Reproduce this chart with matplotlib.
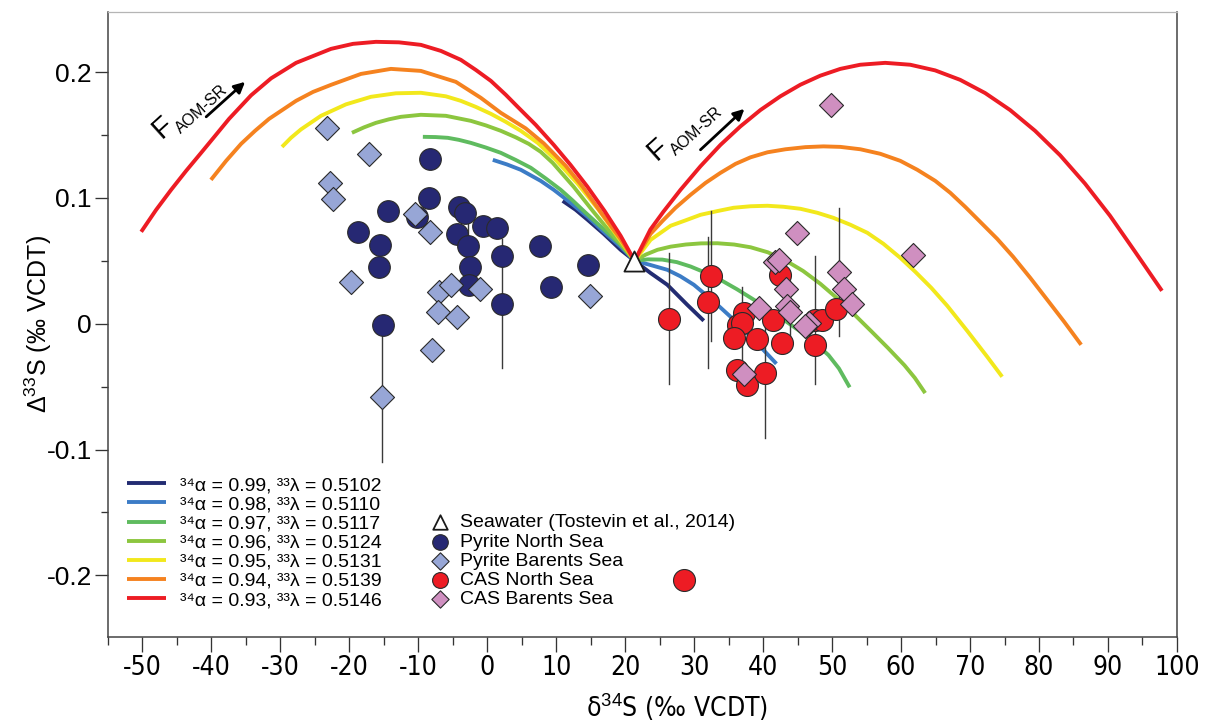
import os
import matplotlib
matplotlib.use('Agg')
import matplotlib.pyplot as plt
from matplotlib import font_manager
from matplotlib.font_manager import FontProperties
from matplotlib.ticker import MultipleLocator, FixedLocator, FixedFormatter

# ---------------- data ----------------
# seawater (Tostevin et al., 2014)
sw_x = [21.3]
sw_y = [0.050]

# Pyrite North Sea
pns_x = [-8.3, -8.4, -14.3, -18.7, -15.5, -15.6, -15.1, -10.2, -4.1, -3.2, -4.4,
         -0.6, 1.5, -2.8, -2.5, -2.6, 2.2, 2.2, 7.6, 9.3, 14.6]
pns_y = [0.131, 0.100, 0.090, 0.073, 0.063, 0.045, -0.001, 0.085, 0.093, 0.088, 0.071,
         0.078, 0.076, 0.062, 0.045, 0.031, 0.054, 0.016, 0.062, 0.029, 0.047]
pns_err = [0, 0, 0, 0, 0, 0, 0, 0, 0, 0, 0,
           0, 0, 0.018, 0, 0, 0, 0.051, 0, 0, 0]

# Pyrite Barents Sea
pbs_x = [-23.2, -17.1, -22.7, -22.3, -10.5, -8.3, -19.7, -7.0, -5.25, -1.05, -7.1,
         -4.4, -7.95, 14.9, -15.3]
pbs_y = [0.156, 0.135, 0.112, 0.099, 0.087, 0.073, 0.033, 0.025, 0.031, 0.028, 0.009,
         0.005, -0.021, 0.022, -0.058]
pbs_err = [0, 0, 0, 0, 0, 0, 0, 0, 0, 0, 0,
           0, 0, 0, 0.052]

# CAS North Sea
cns_x = [26.3, 32.4, 32.0, 37.2, 36.3, 37.0, 35.8, 39.15, 41.45, 42.5, 42.8,
         47.6, 48.6, 47.5, 50.6, 36.2, 37.7, 40.25, 28.6]
cns_y = [0.004, 0.038, 0.017, 0.0085, -0.001, 0.0005, -0.011, -0.012, 0.003, 0.039, -0.015,
         0.003, 0.003, -0.017, 0.012, -0.037, -0.0485, -0.039, -0.204]
cns_err = [0.052, 0.052, 0.052, 0, 0, 0.029, 0, 0, 0, 0, 0,
           0.051, 0, 0, 0, 0, 0, 0.052, 0]

# CAS Barents Sea
cbs_x = [49.8, 44.9, 41.8, 42.3, 43.4, 39.4, 43.5, 43.9, 46.6, 46.1, 51.0,
         51.8, 52.9, 37.2, 61.7]
cbs_y = [0.174, 0.072, 0.049, 0.051, 0.028, 0.0125, 0.014, 0.009, 0.0005, -0.002, 0.041,
         0.028, 0.016, -0.040, 0.055]
cbs_err = [0, 0, 0, 0, 0, 0, 0, 0.025, 0, 0, 0.051,
           0, 0, 0, 0]

# model curves (34alpha, 33lambda)
c099_x = [10.96, 12.84, 14.58, 16.90, 19.36, 21.38, 23.70, 26.12, 29.01, 31.41]
c099_y = [0.0977, 0.0906, 0.0826, 0.0715, 0.0588, 0.0500, 0.0403, 0.0310, 0.0151, 0.0024]

c098_x = [0.83, 2.85, 4.88, 7.77, 9.66, 12.12, 14.58, 16.90, 19.36, 21.38, 23.5, 26.12,
          28.0, 29.97, 32.87, 35.76, 38.66, 41.94]
c098_y = [0.1303, 0.1267, 0.1224, 0.1136, 0.1065, 0.0961, 0.0850, 0.0731, 0.0612, 0.0500,
          0.0470, 0.0429, 0.0378, 0.0310, 0.0177, 0.0032, -0.0127, -0.0318]

c097_x = [-9.31, -7.43, -5.69, -4.10, -2.36, -0.19, 1.98, 4.15, 6.33, 8.50, 10.67, 12.40,
          14.29, 16.75, 19.36, 21.38, 23.3, 25.4, 27.5, 29.5, 31.7, 33.8, 36.2, 38.7,
          41.0, 43.3, 45.5, 47.5, 49.5, 51.0, 52.56]
c097_y = [0.1486, 0.1484, 0.1478, 0.1462, 0.1438, 0.1401, 0.1359, 0.1302, 0.1240, 0.1155,
          0.1065, 0.0980, 0.0882, 0.0759, 0.0628, 0.0500, 0.0512, 0.0510, 0.0490, 0.0455,
          0.0405, 0.0350, 0.0275, 0.0190, 0.0105, 0.0020, -0.0065, -0.0150, -0.0250,
          -0.0355, -0.0505]

c096_x = [-19.59, -17.85, -16.12, -14.24, -12.49, -9.60, -5.98, -2.36, -0.19, 1.98, 4.15,
          6.04, 7.77, 9.51, 12.55, 15.30, 17.33, 19.36, 21.38, 23.0, 24.7, 26.6, 28.8,
          31.0, 33.4, 35.8, 38.2, 40.7, 43.2, 45.8, 48.3, 50.8, 53.3, 55.7, 58.1, 60.5,
          62.0, 63.5]
c096_y = [0.1518, 0.1561, 0.1597, 0.1625, 0.1645, 0.1661, 0.1653, 0.1613, 0.1577, 0.1534,
          0.1482, 0.1430, 0.1367, 0.1279, 0.1089, 0.0898, 0.0763, 0.0636, 0.0500, 0.0550,
          0.0588, 0.0613, 0.0630, 0.0639, 0.0640, 0.0630, 0.0608, 0.0568, 0.0505, 0.0420,
          0.0318, 0.0200, 0.0070, -0.0060, -0.0192, -0.0330, -0.0430, -0.0551]

c095_x = [-29.73, -28.43, -26.98, -24.08, -20.46, -16.84, -13.22, -9.60, -5.98, -3.81,
          -1.64, 0.54, 2.71, 4.88, 7.34, 9.95, 13.13, 16.17, 19.36, 21.38, 23.70, 26.60,
          28.77, 30.93, 33.40, 35.72, 38.18, 40.64, 42.96, 45.42, 47.88, 50.20, 52.66,
          55.12, 57.44, 59.90, 62.07, 64.38, 66.70, 69.59, 72.49, 74.66]
c095_y = [0.1406, 0.1478, 0.1545, 0.1653, 0.1744, 0.1804, 0.1832, 0.1836, 0.1808, 0.1772,
          0.1724, 0.1669, 0.1605, 0.1534, 0.1438, 0.1303, 0.1113, 0.0906, 0.0660, 0.0500,
          0.0667, 0.0779, 0.0822, 0.0866, 0.0896, 0.0922, 0.0934, 0.0938, 0.0930, 0.0914,
          0.0882, 0.0842, 0.0787, 0.0723, 0.0636, 0.0524, 0.0413, 0.0286, 0.0143, -0.0056,
          -0.0262, -0.0421]

c094_x = [-40.03, -37.83, -35.66, -33.63, -31.60, -27.69, -25.23, -22.63, -18.28, -13.94,
          -9.60, -4.53, -0.91, 1.98, 5.60, 8.21, 11.39, 13.85, 16.43, 19.33, 21.38, 23.70,
          25.44, 27.32, 29.49, 31.67, 33.84, 36.01, 38.18, 40.64, 43.25, 46.14, 48.75,
          51.21, 54.11, 57.00, 59.90, 62.36, 64.96, 67.14, 69.31, 71.48, 73.94, 76.26,
          78.72, 81.19, 83.65, 86.11]
c094_y = [0.1144, 0.1295, 0.1430, 0.1534, 0.1629, 0.1772, 0.1843, 0.1899, 0.1986, 0.2026,
          0.2010, 0.1923, 0.1796, 0.1677, 0.1553, 0.1434, 0.1256, 0.1089, 0.0890, 0.0675,
          0.0500, 0.0715, 0.0818, 0.0922, 0.1025, 0.1120, 0.1200, 0.1271, 0.1323, 0.1363,
          0.1387, 0.1404, 0.1410, 0.1406, 0.1387, 0.1351, 0.1295, 0.1224, 0.1136, 0.1041,
          0.0929, 0.0810, 0.0675, 0.0532, 0.0366, 0.0191, 0.0016, -0.0167]

c093_x = [-50.14, -47.97, -45.80, -43.62, -41.45, -39.42, -37.40, -34.21, -31.31, -27.69,
          -22.63, -19.44, -16.11, -12.78, -9.60, -6.70, -3.81, -1.64, 0.54, 2.71, 4.44,
          7.05, 9.66, 12.09, 14.55, 17.01, 19.36, 21.38, 23.67, 25.56, 28.04, 30.93,
          33.83, 36.72, 39.62, 42.51, 45.41, 48.30, 51.20, 54.09, 57.71, 61.33, 64.95,
          68.57, 72.19, 75.81, 79.43, 83.05, 86.67, 90.29, 93.91, 97.82]
c093_y = [0.0731, 0.0906, 0.1065, 0.1216, 0.1359, 0.1494, 0.1629, 0.1816, 0.1951, 0.2074,
          0.2185, 0.2225, 0.2241, 0.2237, 0.2217, 0.2169, 0.2098, 0.2018, 0.1931, 0.1820,
          0.1724, 0.1581, 0.1422, 0.1263, 0.1089, 0.0898, 0.0699, 0.0500, 0.0749, 0.0891,
          0.1065, 0.1252, 0.1422, 0.1569, 0.1699, 0.1808, 0.1900, 0.1972, 0.2026, 0.2059,
          0.2074, 0.2059, 0.2014, 0.1939, 0.1834, 0.1699, 0.1534, 0.1340, 0.1114, 0.0859,
          0.0574, 0.0262]

curve_labels = ['³⁴α = 0.99, ³³λ = 0.5102',
                '³⁴α = 0.98, ³³λ = 0.5110',
                '³⁴α = 0.97, ³³λ = 0.5117',
                '³⁴α = 0.96, ³³λ = 0.5124',
                '³⁴α = 0.95, ³³λ = 0.5131',
                '³⁴α = 0.94, ³³λ = 0.5139',
                '³⁴α = 0.93, ³³λ = 0.5146']
curve_colors = ['#232c72', '#3c7cc6', '#5fbb5f', '#8cc63f', '#f2e81c', '#f5821f', '#ed1c24']

xticks = [-50, -40, -30, -20, -10, 0, 10, 20, 30, 40, 50, 60, 70, 80, 90, 100]
xtick_labels = ['-50', '-40', '-30', '-20', '-10', '0', '10', '20', '30', '40', '50',
                '60', '70', '80', '90', '100']
yticks = [-0.2, -0.1, 0, 0.1, 0.2]
ytick_labels = ['-0.2', '-0.1', '0', '0.1', '0.2']

# ---------------- style ----------------
plt.rcParams['font.family'] = ['Liberation Sans', 'DejaVu Sans']
plt.rcParams['mathtext.fontset'] = 'custom'
plt.rcParams['mathtext.rm'] = 'Liberation Sans'
plt.rcParams['mathtext.it'] = 'Liberation Sans:italic'
plt.rcParams['mathtext.bf'] = 'Liberation Sans:bold'
plt.rcParams['axes.unicode_minus'] = False


def find_condensed():
    # the x axis of the original uses a narrow sans face
    files = [f.fname for f in font_manager.fontManager.ttflist]
    prefs = ['LiberationSansNarrow-Regular', 'DejaVuSansCondensed.ttf',
             'RobotoCondensed-Regular', 'Roboto_Condensed-Regular',
             'OpenSans_Condensed-Regular', 'OpenSans-CondensedRegular']
    for p in prefs:
        for fn in files:
            if p in os.path.basename(fn):
                return fn
    for fn in files:
        b = os.path.basename(fn)
        if ('Narrow' in b or 'Condensed' in b) and not any(
                k in b for k in ['Bold', 'Italic', 'Oblique', 'Light', 'Thin', 'Medium']):
            return fn
    return None


narrow_file = find_condensed()
if narrow_file:
    xfont = FontProperties(fname=narrow_file, size=19)
    xlab_font = FontProperties(fname=narrow_file, size=19)
else:
    xfont = FontProperties(family='Liberation Sans', size=18)
    xlab_font = FontProperties(family='Liberation Sans', size=18)

fig = plt.figure(figsize=(12.11, 7.22), dpi=100)
ax = fig.add_axes([0.0889, 0.1177, 0.8830, 0.8660])
ax.set_xlim(-55, 100)
ax.set_ylim(-0.249, 0.248)

# curves
curves = [(c099_x, c099_y), (c098_x, c098_y), (c097_x, c097_y), (c096_x, c096_y),
          (c095_x, c095_y), (c094_x, c094_y), (c093_x, c093_y)]
line_handles = []
for (cx, cy), col, lab in zip(curves, curve_colors, curve_labels):
    ln, = ax.plot(cx, cy, color=col, lw=2.8, label=lab, solid_capstyle='butt',
                  solid_joinstyle='round', zorder=2)
    line_handles.append(ln)


# error bars
def draw_err(xs, ys, es):
    for x, y, e in zip(xs, ys, es):
        if e > 0:
            ax.plot([x, x], [y - e, y + e], color='#3a3a3a', lw=1.0, zorder=3)


draw_err(pns_x, pns_y, pns_err)
draw_err(pbs_x, pbs_y, pbs_err)
draw_err(cns_x, cns_y, cns_err)
draw_err(cbs_x, cbs_y, cbs_err)

# points
edge = '#2a2a2a'
h_pns = ax.scatter(pns_x, pns_y, s=243, marker='o', c='#262873', edgecolors=edge,
                   linewidths=0.8, zorder=4, label='Pyrite North Sea')
h_pbs = ax.scatter(pbs_x, pbs_y, s=150, marker='D', c='#97a6d6', edgecolors=edge,
                   linewidths=0.8, zorder=5, label='Pyrite Barents Sea')
h_cns = ax.scatter(cns_x, cns_y, s=250, marker='o', c='#ed1c24', edgecolors=edge,
                   linewidths=0.8, zorder=4, label='CAS North Sea')
h_cbs = ax.scatter(cbs_x, cbs_y, s=150, marker='D', c='#cf8fc0', edgecolors=edge,
                   linewidths=0.8, zorder=5, label='CAS Barents Sea')
h_sw = ax.scatter(sw_x, sw_y, s=210, marker='^', c='white', edgecolors='#1a1a1a',
                  linewidths=1.3, zorder=6, label='Seawater (Tostevin et al., 2014)')

# F AOM-SR annotations
ax.text(-46.95, 0.1565, 'F', fontsize=21, rotation=42, rotation_mode='anchor',
        ha='center', va='center')
ax.text(-41.3, 0.1708, 'AOM-SR', fontsize=11.5, rotation=42, rotation_mode='anchor',
        ha='center', va='center')
ax.annotate('', xy=(-35.08, 0.1923), xytext=(-40.72, 0.1645),
            arrowprops=dict(arrowstyle='-|>', color='k', lw=2, mutation_scale=16,
                            shrinkA=0, shrinkB=0))
ax.text(24.71, 0.1390, 'F', fontsize=21, rotation=42, rotation_mode='anchor',
        ha='center', va='center')
ax.text(30.35, 0.1534, 'AOM-SR', fontsize=11.5, rotation=42, rotation_mode='anchor',
        ha='center', va='center')
ax.annotate('', xy=(37.30, 0.1708), xytext=(30.93, 0.1383),
            arrowprops=dict(arrowstyle='-|>', color='k', lw=2, mutation_scale=16,
                            shrinkA=0, shrinkB=0))

# axes, ticks
ax.xaxis.set_major_locator(FixedLocator(xticks))
ax.xaxis.set_major_formatter(FixedFormatter(xtick_labels))
ax.xaxis.set_minor_locator(MultipleLocator(5))
ax.yaxis.set_major_locator(FixedLocator(yticks))
ax.yaxis.set_major_formatter(FixedFormatter(ytick_labels))
ax.yaxis.set_minor_locator(MultipleLocator(0.05))
ax.tick_params(axis='x', which='major', length=10.8, width=0.95, color='#333333',
               direction='out', pad=2)
ax.tick_params(axis='x', which='minor', length=5.8, width=0.95, color='#333333',
               direction='out')
ax.tick_params(axis='y', which='major', length=9.4, width=0.95, color='#333333',
               direction='out', pad=2, labelsize=19)
ax.tick_params(axis='y', which='minor', length=5.4, width=0.95, color='#333333',
               direction='out')
for lbl in ax.get_xticklabels():
    lbl.set_fontproperties(xfont)
for side in ['left', 'bottom', 'right']:
    ax.spines[side].set_color('#444444')
    ax.spines[side].set_linewidth(1.1)
ax.spines['top'].set_color('#b5b5b5')
ax.spines['top'].set_linewidth(0.9)

ax.set_xlabel(r'δ$^{34}$S (‰ VCDT)', fontproperties=xlab_font)
ax.set_ylabel(r'Δ$^{33}$S (‰ VCDT)', fontsize=18)
ax.xaxis.set_label_coords(0.532, -0.1135)
ax.xaxis.label.set_va('center')
ax.yaxis.set_label_coords(-0.065, 0.5)
ax.yaxis.label.set_va('center')

# legends
leg_font = {'family': ['Liberation Sans', 'DejaVu Sans'], 'size': 14}
leg1 = ax.legend(handles=line_handles, loc='upper left',
                 bbox_to_anchor=(0.1049, 0.3400), bbox_transform=fig.transFigure,
                 frameon=False, prop=leg_font, handlelength=2.0, handletextpad=0.7,
                 labelspacing=0.08, borderpad=0, borderaxespad=0)
ax.add_artist(leg1)
ax.legend(handles=[h_sw, h_pns, h_pbs, h_cns, h_cbs], loc='upper left',
          bbox_to_anchor=(0.3570, 0.2883), bbox_transform=fig.transFigure,
          frameon=False, prop=leg_font, handlelength=0.8, handletextpad=0.6,
          labelspacing=0.08, borderpad=0, borderaxespad=0, scatterpoints=1,
          markerscale=0.72)

fig.savefig('out.png', dpi=100)
